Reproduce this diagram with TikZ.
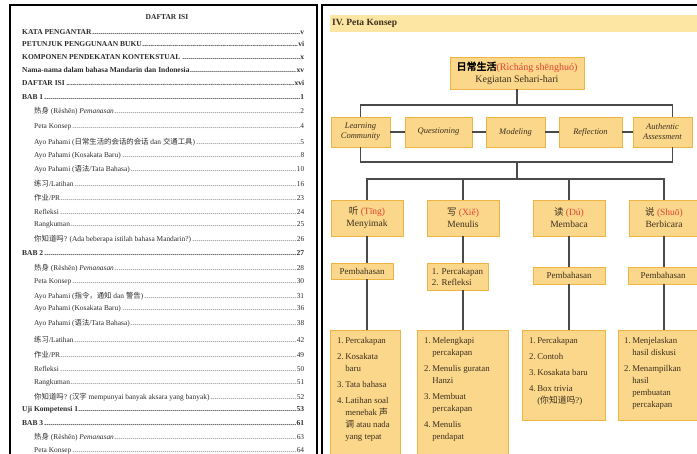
\documentclass[tikz,border=0pt]{standalone}
\usepackage{fontspec}
\setmainfont{Liberation Serif}
\newfontfamily\cjk{Noto Sans CJK SC}
\newfontfamily\cjkbold[FakeBold=3]{Noto Sans CJK SC}
\usepackage{tikz}

\definecolor{boxfill}{HTML}{FBD78C}
\definecolor{boxdraw}{HTML}{EDB444}
\definecolor{bandfill}{HTML}{FDE6A4}
\definecolor{pinyin}{HTML}{E2432F}
\definecolor{ink}{HTML}{3A2E1C}
\definecolor{linegray}{HTML}{4A4A4A}
\definecolor{tocink}{HTML}{2B2B2B}

\newcommand{\zh}[1]{{\cjk #1}}
\newcommand{\tocdots}{\leaders\hbox to 2pt{\hss.\hss}\hfill}

\begin{document}
\begin{tikzpicture}[x=1pt, y=-1pt,
    pageframe/.style={line width=1.6pt, black},
    tocrow/.style={anchor=west, inner sep=0pt, text=tocink},
    cbox/.style={draw=boxdraw, fill=boxfill, line width=0.8pt, text=ink, inner sep=1pt, align=center},
    cline/.style={draw=linegray, line width=1.3pt},
    listtext/.style={anchor=north west, inner sep=0pt, text=ink, font=\fontsize{8.8}{12}\selectfont}
]
\useasboundingbox (0,0) rectangle (697,454);

% Helper macros for one line of the table of contents
% Arguments: node name, y-position, entry text, page number
\def\tocmain#1#2#3#4{
    \node[tocrow, font=\fontsize{7.5}{9}\selectfont\bfseries] (#1) at (22,#2)
        {\makebox[282pt][l]{#3\tocdots#4}};
}
\def\tocsub#1#2#3#4{
    \node[tocrow, font=\fontsize{7.4}{9}\selectfont] (#1) at (34,#2)
        {\makebox[270pt][l]{#3\tocdots#4}};
}

% Page frames
\draw[pageframe] (10,460) -- (10,5) -- (317,5) -- (317,460);
\draw[pageframe] (322,460) -- (322,5) -- (700,5);

% Left page: table of contents
\node[tocrow, anchor=center, font=\fontsize{7.5}{9}\selectfont\bfseries] (tochead) at (167,17) {DAFTAR ISI};
\tocmain{t1}{32}{KATA PENGANTAR}{v}
\tocmain{t2}{44}{PETUNJUK PENGGUNAAN BUKU}{vi}
\tocmain{t3}{57}{KOMPONEN PENDEKATAN KONTEKSTUAL}{x}
\tocmain{t4}{70}{Nama-nama dalam bahasa Mandarin dan Indonesia}{xv}
\tocmain{t5}{83}{DAFTAR ISI}{xvi}
\tocmain{t6}{97}{BAB 1}{1}
\tocsub{t7}{111}{\zh{热身} (Rèshēn) \textit{Pemanasan}}{2}
\tocsub{t8}{127}{Peta Konsep}{4}
\tocsub{t9}{142}{Ayo Pahami (\zh{日常生活的会话的会话} dan \zh{交通工具})}{5}
\tocsub{t10}{156}{Ayo Pahami (Kosakata Baru)}{8}
\tocsub{t11}{169}{Ayo Pahami (\zh{语法}/Tata Bahasa)}{10}
\tocsub{t12}{184}{\zh{练习}/Latihan}{16}
\tocsub{t13}{198}{\zh{作业}/PR}{23}
\tocsub{t14}{212}{Refleksi}{24}
\tocsub{t15}{225}{Rangkuman}{25}
\tocsub{t16}{239}{\zh{你知道吗}? (Ada beberapa istilah bahasa Mandarin?)}{26}
\tocmain{t17}{253}{BAB 2}{27}
\tocsub{t18}{268}{\zh{热身} (Rèshēn) \textit{Pemanasan}}{28}
\tocsub{t19}{282}{Peta Konsep}{30}
\tocsub{t20}{296}{Ayo Pahami (\zh{指令，通知} dan \zh{警告})}{31}
\tocsub{t21}{309}{Ayo Pahami (Kosakata Baru)}{36}
\tocsub{t22}{323}{Ayo Pahami (\zh{语法}/Tata Bahasa)}{38}
\tocsub{t23}{340}{\zh{练习}/Latihan}{42}
\tocsub{t24}{355}{\zh{作业}/PR}{49}
\tocsub{t25}{369}{Refleksi}{50}
\tocsub{t26}{383}{Rangkuman}{51}
\tocsub{t27}{397}{\zh{你知道吗}? (\zh{汉字} mempunyai banyak aksara yang banyak)}{52}
\tocmain{t28}{410}{Uji Kompetensi 1}{53}
\tocmain{t29}{423}{BAB 3}{61}
\tocsub{t30}{437}{\zh{热身} (Rèshēn) \textit{Pemanasan}}{63}
\tocsub{t31}{451}{Peta Konsep}{64}

% Right page: header band
\fill[bandfill] (330,15) rectangle (700,32);
\node[anchor=west, inner sep=0pt, text=ink, font=\fontsize{9.5}{11}\selectfont\bfseries] (title) at (332,23.5) {IV. Peta Konsep};

% Root concept
\node[cbox, minimum width=134, minimum height=32, font=\fontsize{10}{12}\selectfont] (root) at (517,73)
    {{\cjkbold\color{black}日常生活}\textcolor{pinyin}{(Rìcháng shēnghuó)}\\Kegiatan Sehari-hari};

% Contextual components
\node[cbox, minimum width=59, minimum height=30, font=\fontsize{8.5}{10}\selectfont\itshape] (lc) at (360.5,132) {Learning\\Community};
\node[cbox, minimum width=67, minimum height=30, font=\fontsize{8.5}{10}\selectfont\itshape] (qu) at (438.5,132) {Questioning};
\node[cbox, minimum width=59, minimum height=30, font=\fontsize{8.5}{10}\selectfont\itshape] (mo) at (515.5,132) {Modeling};
\node[cbox, minimum width=63, minimum height=30, font=\fontsize{8.5}{10}\selectfont\itshape] (re) at (590.5,132) {Reflection};
\node[cbox, minimum width=59, minimum height=30, font=\fontsize{8.5}{10}\selectfont\itshape] (aa) at (662.5,132) {Authentic\\Assessment};

% Skills
\node[cbox, minimum width=72, minimum height=36, font=\fontsize{9.5}{12}\selectfont] (ting) at (367,218) {\zh{听} \textcolor{pinyin}{(Tīng)}\\Menyimak};
\node[cbox, minimum width=72, minimum height=36, font=\fontsize{9.5}{12}\selectfont] (xie) at (463,218) {\zh{写} \textcolor{pinyin}{(Xiě)}\\Menulis};
\node[cbox, minimum width=72, minimum height=36, font=\fontsize{9.5}{12}\selectfont] (du) at (569,218) {\zh{读} \textcolor{pinyin}{(Dú)}\\Membaca};
\node[cbox, minimum width=70, minimum height=36, font=\fontsize{9.5}{12}\selectfont] (shuo) at (664,218) {\zh{说} \textcolor{pinyin}{(Shuō)}\\Berbicara};

% Activities
\node[cbox, minimum width=62, minimum height=16, font=\fontsize{9}{11}\selectfont] (pb1) at (362,271) {Pembahasan};
\node[cbox, minimum width=61, minimum height=27, align=left, font=\fontsize{9}{11}\selectfont] (pr2) at (457.5,276.5) {1. Percakapan\\2. Refleksi};
\node[cbox, minimum width=72, minimum height=17, font=\fontsize{9}{11}\selectfont] (pb3) at (569,275.5) {Pembahasan};
\node[cbox, minimum width=70, minimum height=17, font=\fontsize{9}{11}\selectfont] (pb4) at (663,275.5) {Pembahasan};

% Detail lists
\node[cbox, anchor=north west, minimum width=70, minimum height=140] (l1) at (330,330) {};
\node[cbox, anchor=north west, minimum width=91, minimum height=140] (l2) at (417,330) {};
\node[cbox, anchor=north west, minimum width=83, minimum height=90] (l3) at (522,330) {};
\node[cbox, anchor=north west, minimum width=80, minimum height=90] (l4) at (618,330) {};

\node[listtext] (l1t) at ([shift={(7,5)}]l1.north west) {\begin{tabular}{@{}l@{\,}l@{}}
1. & Percakapan\\[4pt]
2. & Kosakata\\ & baru\\[4pt]
3. & Tata bahasa\\[4pt]
4. & Latihan soal\\ & menebak \zh{声}\\ & \zh{调} atau nada\\ & yang tepat
\end{tabular}};
\node[listtext] (l2t) at ([shift={(7,5)}]l2.north west) {\begin{tabular}{@{}l@{\,}l@{}}
1. & Melengkapi\\ & percakapan\\[4pt]
2. & Menulis guratan\\ & Hanzi\\[4pt]
3. & Membuat\\ & percakapan\\[4pt]
4. & Menulis\\ & pendapat
\end{tabular}};
\node[listtext] (l3t) at ([shift={(7,5)}]l3.north west) {\begin{tabular}{@{}l@{\,}l@{}}
1. & Percakapan\\[4pt]
2. & Contoh\\[4pt]
3. & Kosakata baru\\[4pt]
4. & Box trivia\\ & (\zh{你知道吗}?)
\end{tabular}};
\node[listtext] (l4t) at ([shift={(6,5)}]l4.north west) {\begin{tabular}{@{}l@{\,}l@{}}
1. & Menjelaskan\\ & hasil diskusi\\[4pt]
2. & Menampilkan\\ & hasil\\ & pembuatan\\ & percakapan
\end{tabular}};

% Connectors
\coordinate (hub1) at (517,105);
\coordinate (hub2) at (517,162);
\coordinate (hub3) at (517,179);
\draw[cline] (root) -- (hub1);
\draw[cline] (lc.north) |- (hub1) -| ([xshift=10]aa.north);
\draw[cline] (lc) -- (qu);
\draw[cline] (qu) -- (mo);
\draw[cline] (mo) -- (re);
\draw[cline] (re) -- (aa);
\draw[cline] (lc.south) |- (hub2) -| ([xshift=10]aa.south);
\draw[cline] (hub2) -- (hub3);
\draw[cline] (ting.north) |- (hub3) -| (shuo.north);
\draw[cline] (hub3) -| (xie.north);
\draw[cline] (hub3) -| (du.north);

\draw[cline] (ting.south) -- (ting.south |- pb1.north);
\draw[cline] (xie.south) -- (xie.south |- pr2.north);
\draw[cline] (du.south) -- (du.south |- pb3.north);
\draw[cline] (shuo.south) -- (shuo.south |- pb4.north);
\draw[cline] (ting.south |- pb1.south) -- (ting.south |- l1.north);
\draw[cline] (xie.south |- pr2.south) -- (xie.south |- l2.north);
\draw[cline] (du.south |- pb3.south) -- (du.south |- l3.north);
\draw[cline] (shuo.south |- pb4.south) -- (shuo.south |- l4.north);

\end{tikzpicture}
\end{document}
